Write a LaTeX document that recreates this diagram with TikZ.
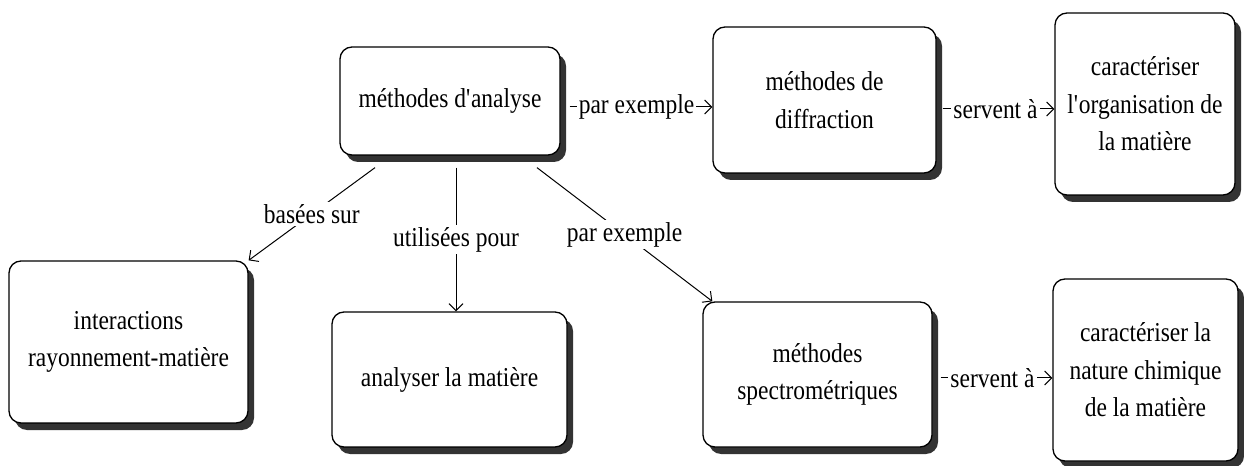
\documentclass[tikz,border=0pt]{standalone}
\usepackage{fontspec}
\setmainfont{Liberation Serif}[FakeStretch=0.86]
\usetikzlibrary{arrows.meta,shadows,calc}
\begin{document}
\begin{tikzpicture}[x=1bp,y=-1bp,
  box/.style={draw, rounded corners=12bp, line width=1.3bp, fill=white, align=center, inner sep=0pt,
    font=\fontsize{27.3bp}{37.5bp}\selectfont,
    drop shadow={shadow xshift=6bp, shadow yshift=-7bp, fill=black!80, opacity=1}},
  lab/.style={fill=white, inner sep=2bp, font=\fontsize{27.3bp}{30bp}\selectfont},
  arr/.style={line width=1bp, -{Straight Barb[length=7bp,width=14bp]}}]
\fill[white] (0,0) rectangle (1244,466);
\useasboundingbox (0,0) rectangle (1244,466);

\node[box, minimum width=220bp, minimum height=108bp] (A) at (450,101) {méthodes d\textquotesingle analyse};
\node[box, minimum width=223bp, minimum height=146bp] (B) at (824.5,100) {méthodes de\\diffraction};
\node[box, minimum width=180bp, minimum height=182bp] (C) at (1145,104) {caractériser\\l\textquotesingle organisation de\\la matière};
\node[box, minimum width=239bp, minimum height=162bp] (D) at (128.5,342) {interactions\\rayonnement-matière};
\node[box, minimum width=235bp, minimum height=135bp] (E) at (449.5,379.5) {analyser la matière};
\node[box, minimum width=229bp, minimum height=145bp] (F) at (817.5,374.5) {méthodes\\spectrométriques};
\node[box, minimum width=185bp, minimum height=182bp] (G) at (1145.5,370) {caractériser la\\nature chimique\\de la matière};

\draw[arr, shorten <=9bp] ([yshift=-6bp]A.east) -- node[lab]{par exemple} ([yshift=-6bp]A.east -| B.west);
\draw[arr, shorten <=6bp] ([yshift=-9bp]B.east) -- node[lab]{servent à} ([yshift=-9bp]B.east -| C.west);
\draw[arr, shorten <=8bp] ([yshift=-3.5bp]F.east) -- node[lab]{servent à} ([yshift=-3.5bp]F.east -| G.west);

\draw[arr] ($(A.south)+(-75,12)$) -- node[lab]{basées sur} (D.north east);
\coordinate (a2) at ($(A.south)+(6,12)$);
\draw[arr] (a2) -- node[lab]{utilisées pour} (a2 |- E.north);
\draw[arr] ($(A.south)+(87,12)$) -- node[lab]{par exemple} ($(F.north west)+(10,0)$);
\end{tikzpicture}
\end{document}
